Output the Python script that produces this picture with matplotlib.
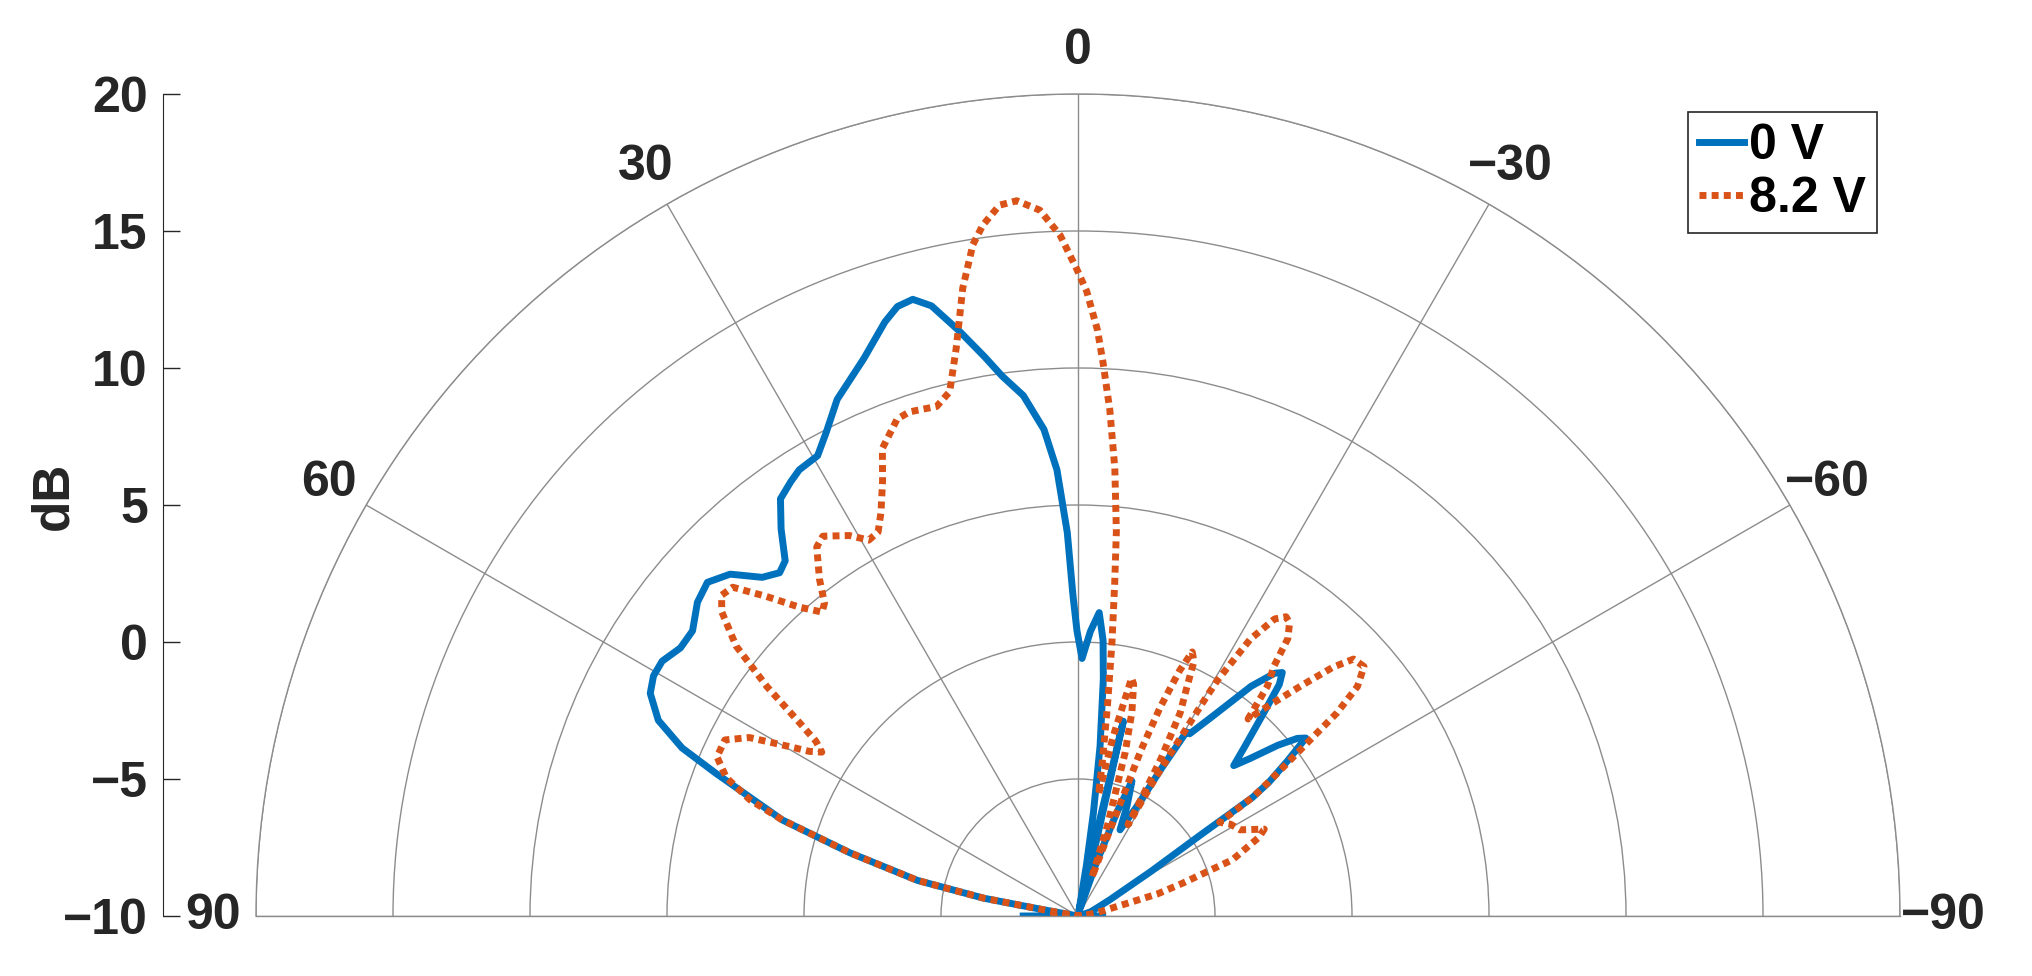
import numpy as np
import matplotlib.pyplot as plt

plt.rcParams['font.family'] = ['Liberation Sans', 'DejaVu Sans']
plt.rcParams['font.weight'] = 'bold'

# angle (deg) / gain (dB), 0 V
theta_0v = [90, 89.5, 89, 85, 80.5, 79.8, 79.3, 77.5, 74.5, 72, 68.5, 67, 65, 62.5,
            60.5, 58.5, 56, 53.5, 50.5, 48, 45.5, 43, 41, 39.5, 37.5, 35.5, 33.5, 32,
            29.5, 27.5, 25, 21, 18, 16.5, 15, 13.5, 11.5, 9.5, 8, 6, 4, 2.7, 1.6, 0.9,
            0.2, -0.9, -2.5, -4, -5.2, -6.1, -7.4, -8.5, -9.4, -10.5, -11.8, -13.1,
            -14.2, -15.5, -17, -19, -20.5, -21.8, -24, -26, -28.2, -29.5, -30.5, -31.5,
            -34, -37, -39, -40, -41, -42.5, -44.5, -46, -47.5, -49.5, -51, -52, -53.5,
            -55, -55.8, -56.5, -58.6, -63, -72, -80, -89, -90]
gain_0v = [-8.0, -9.5, -10, -10, -10, -8.8, -6.5, -4.0, -1.35, 1.35, 4.2, 5.7, 6.9, 7.6,
           7.8, 7.8, 7.5, 7.5, 8.0, 8.2, 7.8, 6.9, 6.6, 6.8, 7.8, 8.7, 9.0, 9.2,
           9.3, 9.9, 10.8, 11.8, 12.8, 13.2, 13.3, 12.9, 11.8, 10.7, 9.9, 9.1, 7.8, 6.3, 4.0, 1.7,
           0.4, -0.6, 0.4, 1.1, 0.1, -1.3, -3.75, -6.2, -8.1, -9.8, -8.5, -2.7,
           -8.0, -9.7, -9.6, -8.0, -6.0, -4.7, -5.6, -6.5, -5.5, -3.8, -2.2, -2.2,
           -1.2, 0.5, 1.4, 1.6, 1.2, 0.0, -1.3, -2.1, -1.5, -0.4, 0.3, 0.55, -0.5,
           -1.5, -2.3, -4.6, -6.9, -8.7, -9.5, -10, -10, -9.1]

# angle (deg) / gain (dB), 8.2 V
theta_82v = [90, 89.5, 89, 85, 80.5, 79.8, 79.3, 77.5, 74.5, 72, 70.5, 68.5, 66.2, 63.5,
             61.5, 60, 58.5, 57.4, 56.3, 55.2, 53.6, 51.7, 49.5, 48, 46.4, 44.3, 42.1,
             40.1, 39, 37.5, 35.3, 33.9, 31, 29.1, 27.5, 26, 24.2, 22.7, 20, 18.5, 15.5,
             13.75, 12.1, 10.4, 8.9, 7.85, 6.3, 4.9, 3.1, 1.5, 0.1, -0.8, -1.9, -2.6,
             -3.6, -4.7, -5.7, -6.3, -7.1, -8.0, -8.9, -9.6, -11.1, -12.7, -13.5, -14.8,
             -16.1, -18, -19.8, -20.4, -20.8, -21.5, -22.5, -23.4, -24.5, -25.5, -26.7,
             -27.8, -28.3, -28.7, -29.3, -29.8, -30.3, -30.6, -31.9, -33.5, -34.8, -35.8,
             -37.1, -38.1, -39.5, -40.8, -42.1, -44.1, -45.7, -47, -48.9, -50.6, -51.9,
             -52.8, -54.9, -55.8, -56.5, -59, -62, -65, -66.5, -70, -72.6, -74.5, -76,
             -80, -85, -89, -90]
gain_82v = [-9.0, -9.6, -10, -10, -10, -8.8, -6.5, -4.0, -1.35, 1.35, 2.7, 3.8, 4.4, 4.4,
            3.65, 2.5, 1.5, 1.1, 1.5, 2.4, 4.1, 5.9, 7.1, 7.5, 7.4, 6.3, 5.2,
            4.5, 4.7, 5.5, 6.5, 6.7, 6.2, 5.7, 5.8, 6.4, 7.4, 8.5, 9.3, 9.4, 9.3,
            9.7, 11.2, 13.3, 14.8, 15.45, 16.1, 16.2, 15.8, 14.85, 13.6, 12.8, 11.4, 10.2,
            8.5, 6.4, 4.1, 2.2, 0.0, -2.3, -4.2, -5.5, -3.3, -1.1, -1.3, -2.3,
            -3.8, -6.5, -8.5, -6.5, -3.5, -1.8, -0.3, 0.5, 0.2, -0.8, -1.7,
            -3.5, -5.0, -6.2, -4.2, -2.8, -1.0, 0.0, 1.9, 3.0, 3.3, 3.2,
            2.7, 1.6, 0.86, -0.5, 0.3, 1.7, 3.0, 3.75, 3.85, 3.2, 2.0,
            0.66, -1.5, -2.3, -3.8, -3.5, -3.3, -2.5, -2.8, -4.0, -6.0, -7.0, -8.4,
            -9.3, -9.8, -10, -9.6]

r_ticks = [-10, -5, 0, 5, 10, 15, 20]
theta_ticks = [-90, -60, -30, 0, 30, 60, 90]
theta_labels = ['\u221290', '\u221260', '\u221230', '0', '30', '60', '90']

W, H = 2032, 976
cx, cy, R = 1078, 916, 822
txt = '#262626'
grid_c = '#8c8c8c'

fig = plt.figure(figsize=(W / 100, H / 100), dpi=100)

# half-disk is padded to a square box by matplotlib, centre sits at 1/4 height
ax = fig.add_axes([(cx - R) / W, (H - cy - 0.5 * R) / H, 2 * R / W, 2 * R / H],
                  projection='polar')
ax.set_theta_zero_location('N')
ax.set_thetamin(-90)
ax.set_thetamax(90)
ax.set_rlim(-10, 20)
ax.set_rticks(r_ticks[1:])
ax.set_yticklabels([])
ax.set_thetagrids(theta_ticks, theta_labels)
ax.grid(True, color=grid_c, linewidth=1)
for s in ax.spines.values():
    s.set_color(grid_c)
    s.set_linewidth(1)
ax.tick_params(axis='x', labelsize=36, colors=txt, pad=24, length=0)
ax.tick_params(axis='y', length=0)

ax.plot(np.deg2rad(theta_0v), gain_0v, color='#0072BD', lw=5, label='0 V')
ax.plot(np.deg2rad(theta_82v), gain_82v, color='#D95319', lw=5,
        ls=(0, (1, 0.75)), label='8.2 V')

leg = ax.legend(loc='upper right', bbox_to_anchor=(1877 / W, 1 - 112 / H),
                bbox_transform=fig.transFigure, fontsize=36, fancybox=False,
                edgecolor=txt, framealpha=1, handlelength=0.9, handletextpad=0.1,
                borderpad=0.22, labelspacing=0.14, borderaxespad=0)
leg.get_frame().set_linewidth(1.2)

# separate dB axis on the left
axl = fig.add_axes([163 / W, (H - cy) / H, 0.0005, R / H])
axl.set_ylim(-10, 20)
axl.set_yticks(r_ticks)
axl.set_xticks([])
axl.patch.set_visible(False)
for side in ['top', 'right', 'bottom']:
    axl.spines[side].set_visible(False)
axl.spines['left'].set_color(txt)
axl.tick_params(axis='y', direction='in', length=12, width=1, labelsize=36,
                colors=txt, pad=11)
axl.set_ylabel('dB', fontsize=37, fontweight='bold', color=txt)
axl.yaxis.set_label_coords(78 / W, 1 - 496 / H, transform=fig.transFigure)

fig.savefig('out.png', dpi=100)
